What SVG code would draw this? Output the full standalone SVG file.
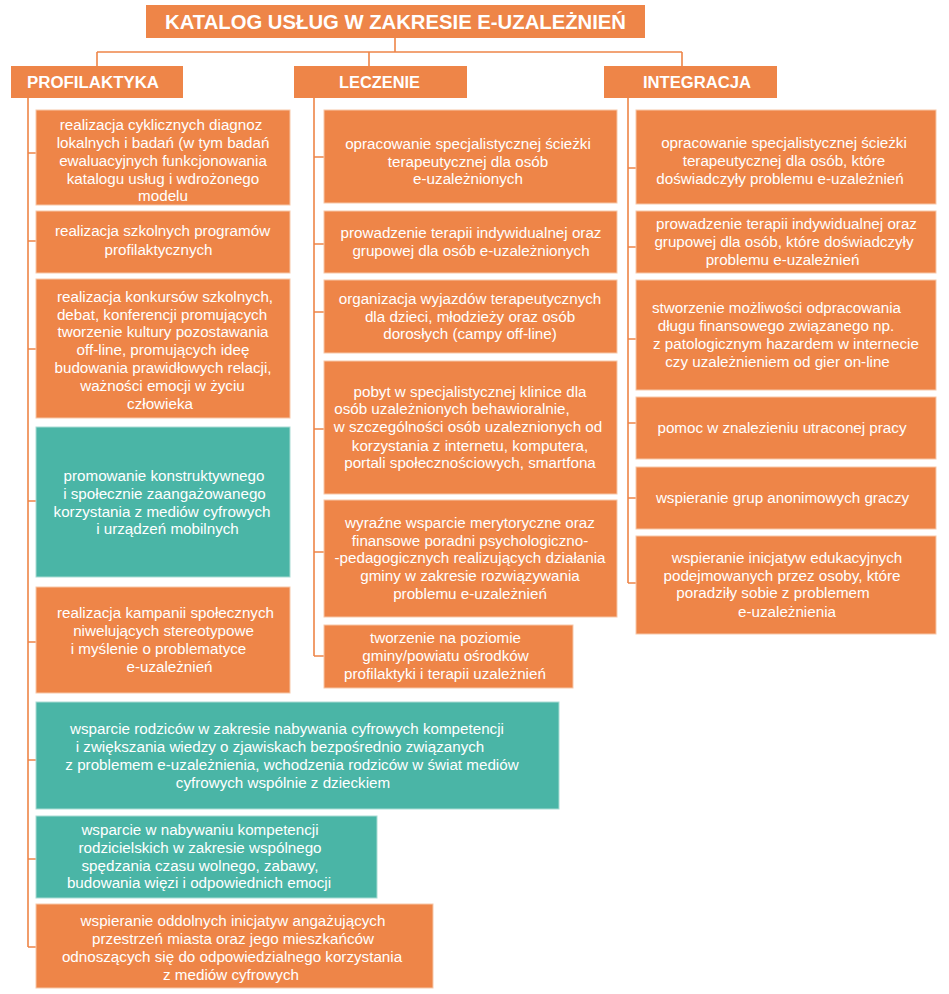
<svg xmlns="http://www.w3.org/2000/svg" width="949" height="994" viewBox="0 0 949 994">
<style>
.o{fill:#EE8548;stroke:#F7C7A8;stroke-width:1}
.g{fill:#4AB5A6;stroke:#A9DCD4;stroke-width:1}
.h{fill:#EE8548}
.t{font-family:"Liberation Sans",Arial,sans-serif;font-size:15.2px;fill:#fff;text-anchor:middle}
.c{font-family:"Liberation Sans",Arial,sans-serif;font-weight:bold;fill:#fff;text-anchor:middle}
.ln{fill:none;stroke:#EE8548;stroke-width:1.6}
</style>
<rect width="949" height="994" fill="#fff"/>
<g id="connectors">
<path class="ln" d="M395,38V52M97,52H682M97,52V66M369,52V66M682,52V66"/>
<path class="ln" d="M28,98V947M28,153H36M28,241H36M28,349H36M28,501H36M28,642H36M28,760H36M28,859H36M28,947H36"/>
<path class="ln" d="M314,98V656M314,157H324M314,244H324M314,312H324M314,429H324M314,552H324M314,656H324"/>
<path class="ln" d="M628,98V583M628,168H636M628,247H636M628,339H636M628,423H636M628,498H636M628,583H636"/>
</g>
<g id="title"><rect class="h" x="146" y="5" width="499" height="33"/><text class="c" x="395.5" y="28.5" font-size="21" textLength="461" lengthAdjust="spacingAndGlyphs">KATALOG USŁUG W ZAKRESIE E-UZALEŻNIEŃ</text></g>
<g id="cat-profilaktyka"><rect class="h" x="11" y="66" width="172" height="32"/><text class="c" x="93" y="87.5" font-size="16" textLength="132" lengthAdjust="spacingAndGlyphs">PROFILAKTYKA</text></g>
<g id="cat-leczenie"><rect class="h" x="294" y="66" width="173" height="32"/><text class="c" x="379.5" y="87.5" font-size="16" textLength="81" lengthAdjust="spacingAndGlyphs">LECZENIE</text></g>
<g id="cat-integracja"><rect class="h" x="604" y="66" width="173" height="32"/><text class="c" x="697" y="87.5" font-size="16" textLength="108" lengthAdjust="spacingAndGlyphs">INTEGRACJA</text></g>

<g id="p1"><rect class="o" x="36" y="110" width="254" height="95"/><text class="t"><tspan x="161" y="129.5">realizacja cyklicznych diagnoz</tspan><tspan x="163" y="147.5">lokalnych i badań (w tym badań</tspan><tspan x="163" y="166">ewaluacyjnych funkcjonowania</tspan><tspan x="163" y="183.5">katalogu usług i wdrożonego</tspan><tspan x="163" y="201">modelu</tspan></text></g>
<g id="p2"><rect class="o" x="36" y="211" width="254" height="62"/><text class="t"><tspan x="162.5" y="236">realizacja szkolnych programów</tspan><tspan x="158.5" y="255">profilaktycznych</tspan></text></g>
<g id="p3"><rect class="o" x="36" y="279" width="254" height="139"/><text class="t"><tspan x="165" y="301.5">realizacja konkursów szkolnych,</tspan><tspan x="162" y="319.5">debat, konferencji promujących</tspan><tspan x="163" y="336.5">tworzenie kultury pozostawania</tspan><tspan x="163" y="354.5">off-line, promujących ideę</tspan><tspan x="163" y="372.5">budowania prawidłowych relacji,</tspan><tspan x="162.5" y="391">ważności emocji w życiu</tspan><tspan x="160" y="408.5">człowieka</tspan></text></g>
<g id="p4"><rect class="g" x="36" y="427" width="254" height="150"/><text class="t"><tspan x="164" y="480.5">promowanie konstruktywnego</tspan><tspan x="164.5" y="498.5">i społecznie zaangażowanego</tspan><tspan x="162" y="516.5">korzystania z mediów cyfrowych</tspan><tspan x="167.5" y="533.5">i urządzeń mobilnych</tspan></text></g>
<g id="p5"><rect class="o" x="36" y="587" width="254" height="106"/><text class="t"><tspan x="165.5" y="617.5">realizacja kampanii społecznych</tspan><tspan x="163.5" y="635.5">niwelujących stereotypowe</tspan><tspan x="158.5" y="653.5">i myślenie o problematyce</tspan><tspan x="169.5" y="671.5">e-uzależnień</tspan></text></g>
<g id="p6"><rect class="g" x="36" y="702" width="523" height="107"/><text class="t"><tspan x="287" y="733.5">wsparcie rodziców w zakresie nabywania cyfrowych kompetencji</tspan><tspan x="280" y="751.5">i zwiększania wiedzy o zjawiskach bezpośrednio związanych</tspan><tspan x="292" y="769.5">z problemem e-uzależnienia, wchodzenia rodziców w świat mediów</tspan><tspan x="283" y="787.5">cyfrowych wspólnie z dzieckiem</tspan></text></g>
<g id="p7"><rect class="g" x="36" y="816" width="341" height="82"/><text class="t"><tspan x="200" y="834.5">wsparcie w nabywaniu kompetencji</tspan><tspan x="200" y="852.5">rodzicielskich w zakresie wspólnego</tspan><tspan x="200" y="870.5">spędzania czasu wolnego, zabawy,</tspan><tspan x="199" y="887.5">budowania więzi i odpowiednich emocji</tspan></text></g>
<g id="p8"><rect class="o" x="36" y="904" width="397" height="84"/><text class="t"><tspan x="233" y="925.5">wspieranie oddolnych inicjatyw angażujących</tspan><tspan x="233" y="943.5">przestrzeń miasta oraz jego mieszkańców</tspan><tspan x="232" y="961.5">odnoszących się do odpowiedzialnego korzystania</tspan><tspan x="231" y="979.5">z mediów cyfrowych</tspan></text></g>

<g id="l1"><rect class="o" x="324" y="110" width="293" height="93"/><text class="t"><tspan x="468" y="148.5">opracowanie specjalistycznej ścieżki</tspan><tspan x="468" y="166.5">terapeutycznej dla osób</tspan><tspan x="468" y="183.5">e-uzależnionych</tspan></text></g>
<g id="l2"><rect class="o" x="324" y="211" width="293" height="62"/><text class="t"><tspan x="471" y="237.5">prowadzenie terapii indywidualnej oraz</tspan><tspan x="471" y="255.5">grupowej dla osób e-uzależnionych</tspan></text></g>
<g id="l3"><rect class="o" x="324" y="280" width="293" height="73"/><text class="t"><tspan x="470" y="303.5">organizacja wyjazdów terapeutycznych</tspan><tspan x="470" y="321.5">dla dzieci, młodzieży oraz osób</tspan><tspan x="470" y="338.5">dorosłych (campy off-line)</tspan></text></g>
<g id="l4"><rect class="o" x="324" y="361" width="293" height="133"/><text class="t"><tspan x="470" y="396.5">pobyt w specjalistycznej klinice dla</tspan><tspan x="452" y="413.5">osób uzależnionych behawioralnie,</tspan><tspan x="468" y="431.5">w szczególności osób uzaleznionych od</tspan><tspan x="470" y="450.5">korzystania z internetu, komputera,</tspan><tspan x="470" y="467.5">portali społecznościowych, smartfona</tspan></text></g>
<g id="l5"><rect class="o" x="324" y="500" width="293" height="117"/><text class="t"><tspan x="470" y="527.5">wyraźne wsparcie merytoryczne oraz</tspan><tspan x="470" y="545.5">finansowe poradni psychologiczno-</tspan><tspan x="470" y="562.5">-pedagogicznych realizujących działania</tspan><tspan x="470" y="581">gminy w zakresie rozwiązywania</tspan><tspan x="470" y="598.5">problemu e-uzależnień</tspan></text></g>
<g id="l6"><rect class="o" x="324" y="625" width="249" height="63"/><text class="t"><tspan x="445.5" y="642.5">tworzenie na poziomie</tspan><tspan x="445.5" y="660.5">gminy/powiatu ośrodków</tspan><tspan x="445" y="678.5">profilaktyki i terapii uzależnień</tspan></text></g>

<g id="i1"><rect class="o" x="636" y="110" width="300" height="94"/><text class="t"><tspan x="784" y="147.5">opracowanie specjalistycznej ścieżki</tspan><tspan x="784" y="165.5">terapeutycznej dla osób, które</tspan><tspan x="780" y="183.5">doświadczyły problemu e-uzależnień</tspan></text></g>
<g id="i2"><rect class="o" x="636" y="211" width="300" height="62"/><text class="t"><tspan x="786.5" y="228.5">prowadzenie terapii indywidualnej oraz</tspan><tspan x="784" y="246.5">grupowej dla osób, które doświadczyły</tspan><tspan x="782.5" y="264.5">problemu e-uzależnień</tspan></text></g>
<g id="i3"><rect class="o" x="636" y="280" width="300" height="110"/><text class="t"><tspan x="776.5" y="312.5">stworzenie możliwości odpracowania</tspan><tspan x="776" y="330.5">długu finansowego związanego np.</tspan><tspan x="786" y="348.5">z patologicznym hazardem w internecie</tspan><tspan x="777.5" y="366.5">czy uzależnieniem od gier on-line</tspan></text></g>
<g id="i4"><rect class="o" x="636" y="397" width="300" height="62"/><text class="t"><tspan x="782" y="432.5">pomoc w znalezieniu utraconej pracy</tspan></text></g>
<g id="i5"><rect class="o" x="636" y="467" width="300" height="62"/><text class="t"><tspan x="782.5" y="502.5">wspieranie grup anonimowych graczy</tspan></text></g>
<g id="i6"><rect class="o" x="636" y="536" width="300" height="98"/><text class="t"><tspan x="787" y="562.5">wspieranie inicjatyw edukacyjnych</tspan><tspan x="782" y="580.5">podejmowanych przez osoby, które</tspan><tspan x="773" y="597.5">poradziły sobie z problemem</tspan><tspan x="787" y="616.5">e-uzależnienia</tspan></text></g>
</svg>
